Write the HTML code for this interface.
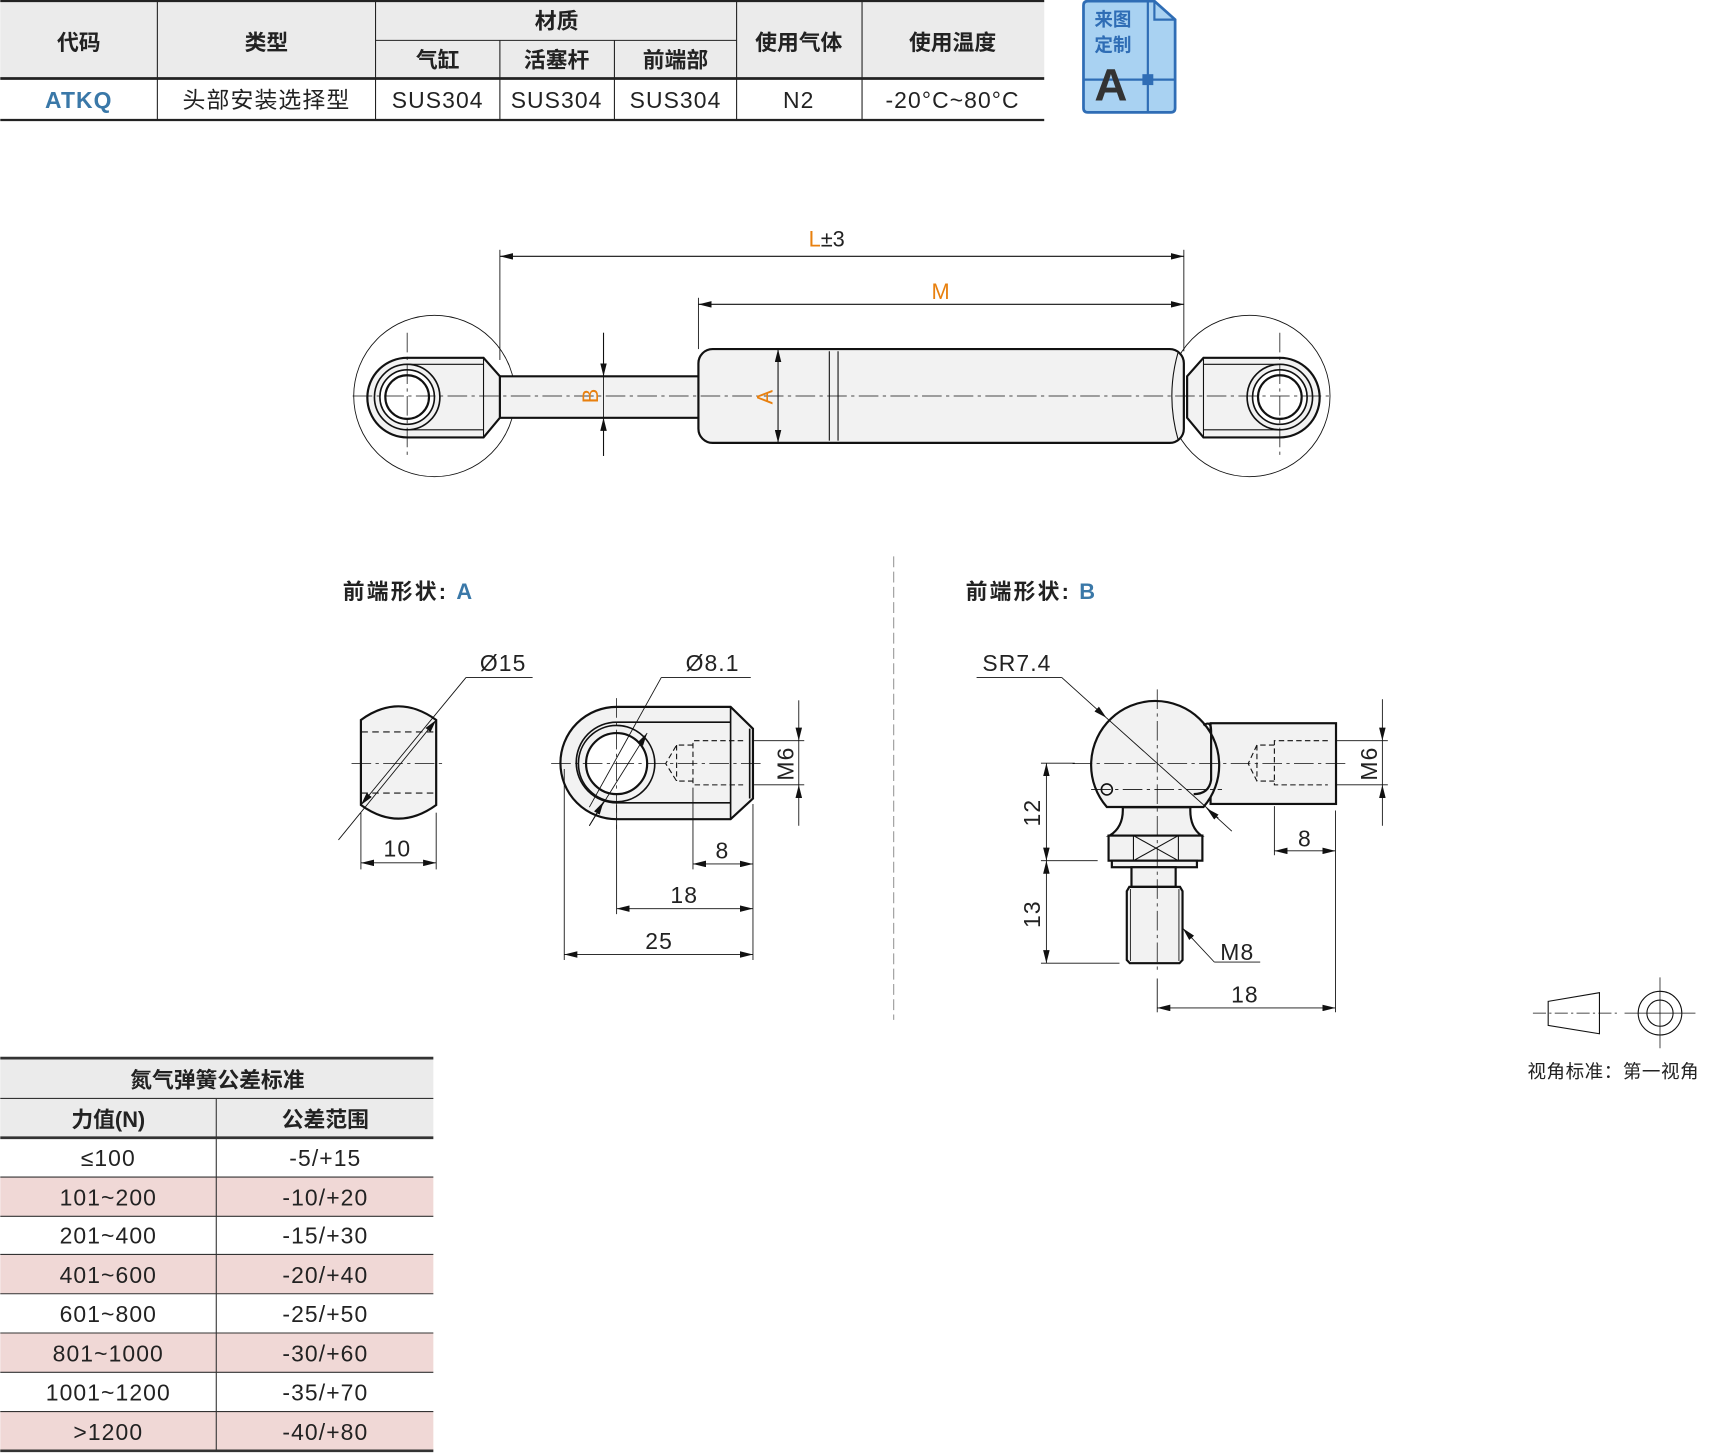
<!DOCTYPE html>
<html><head><meta charset="utf-8"><style>
html,body{margin:0;padding:0;background:#fff;}
svg{display:block;}
text{font-family:"Liberation Sans","Noto Sans CJK SC",sans-serif;}
</style></head><body>
<svg width="1711" height="1453" viewBox="0 0 1568 1332" xmlns="http://www.w3.org/2000/svg">
<defs>
<marker id="ar" viewBox="0 0 12 6" refX="12" refY="3" markerWidth="12" markerHeight="6" markerUnits="userSpaceOnUse" orient="auto-start-reverse"><path d="M0,0 L12,3 L0,6 Z" fill="#111"/></marker>
</defs>
<!-- top table -->
<rect x="0" y="1" width="957" height="71" fill="#ebebeb"/>
<g stroke="#222" fill="none">
<line x1="0" y1="1" x2="957" y2="1" stroke-width="2"/>
<line x1="0" y1="72" x2="957" y2="72" stroke-width="2.5"/>
<line x1="0" y1="110" x2="957" y2="110" stroke-width="2"/>
<line x1="344" y1="37" x2="675" y2="37" stroke-width="1"/>
<line x1="144" y1="1" x2="144" y2="110"/><line x1="344" y1="1" x2="344" y2="110"/>
<line x1="458" y1="37" x2="458" y2="110"/><line x1="563" y1="37" x2="563" y2="110"/>
<line x1="675" y1="1" x2="675" y2="110"/><line x1="790" y1="1" x2="790" y2="110"/>
</g>
<g font-size="20" fill="#222" text-anchor="middle" font-weight="bold">
<text x="72" y="46">代码</text><text x="244" y="46">类型</text><text x="510" y="26">材质</text>
<text x="401" y="62">气缸</text><text x="510" y="62">活塞杆</text><text x="619" y="62">前端部</text>
<text x="732" y="46">使用气体</text><text x="873" y="46">使用温度</text>
</g>
<g font-size="21" fill="#222" text-anchor="middle" letter-spacing="1">
<text x="72" y="99" fill="#3a78a8" font-weight="bold">ATKQ</text><text x="244" y="99">头部安装选择型</text>
<text x="401" y="99">SUS304</text><text x="510" y="99">SUS304</text><text x="619" y="99">SUS304</text>
<text x="732" y="99">N2</text><text x="873" y="99">-20°C~80°C</text>
</g>
<!-- icon -->
<path d="M997,1 L1058,1 L1077,18 L1077,99 Q1077,103 1073,103 L997,103 Q993,103 993,99 L993,5 Q993,1 997,1 Z" fill="#a9d2f2" stroke="#2f6db5" stroke-width="2.5"/>
<path d="M1058,1 L1058,18 L1077,18" fill="none" stroke="#2f6db5" stroke-width="2"/>
<line x1="1052" y1="1" x2="1052" y2="103" stroke="#2f6db5" stroke-width="2"/>
<line x1="993" y1="73" x2="1077" y2="73" stroke="#2f6db5" stroke-width="2"/>
<rect x="1047" y="68" width="10" height="10" fill="#2f6db5"/>
<text x="1003" y="24" font-size="17" fill="#2f6db5" font-weight="bold">来图</text>
<text x="1003" y="47" font-size="17" fill="#2f6db5" font-weight="bold">定制</text>
<text x="1003" y="92" font-size="42" fill="#333" font-weight="bold">A</text>

<!-- main drawing -->
<g stroke="#111" stroke-width="1" fill="none">
<circle cx="398" cy="363" r="74" stroke-width="0.8"/>
<circle cx="1145" cy="363" r="74" stroke-width="0.8"/>
<line x1="458" y1="235" x2="1085" y2="235" marker-start="url(#ar)" marker-end="url(#ar)"/>
<line x1="640" y1="279" x2="1085" y2="279" marker-start="url(#ar)" marker-end="url(#ar)"/>
<line x1="458" y1="229" x2="458" y2="330" stroke-width="0.8"/>
<line x1="1085" y1="229" x2="1085" y2="322" stroke-width="0.8"/>
<line x1="640" y1="273" x2="640" y2="320" stroke-width="0.8"/>
<rect x="458" y="345" width="182" height="38" fill="#f2f2f2" stroke="none"/>
<line x1="458" y1="345" x2="640" y2="345" stroke-width="2"/><line x1="458" y1="383" x2="640" y2="383" stroke-width="2"/>
<rect x="640" y="320" width="445" height="86" rx="13" fill="#f2f2f2" stroke-width="2"/>
<line x1="760" y1="322" x2="760" y2="404"/><line x1="768" y1="322" x2="768" y2="404"/>
<path d="M1080,322 Q1068,363 1080,404"/>
<path d="M373,328 L443,328 L458,345 L458,383 L443,401 L373,401 A36.5,36.5 0 0 1 373,328 Z" fill="#f2f2f2" stroke-width="2"/>
<path d="M373,334 L443,334 M373,394 L443,394 M443,328 L443,401"/>
<circle cx="373" cy="364" r="30" stroke-width="1.5"/>
<circle cx="373" cy="364" r="25" fill="#fff" stroke-width="1.5"/>
<circle cx="373" cy="364" r="20" fill="#fff" stroke-width="2"/>
<path d="M1173,328 L1103,328 L1088,345 L1088,383 L1103,401 L1173,401 A36.5,36.5 0 0 0 1173,328 Z" fill="#f2f2f2" stroke-width="2"/>
<path d="M1173,334 L1103,334 M1173,394 L1103,394 M1103,328 L1103,401"/>
<circle cx="1173" cy="364" r="30" stroke-width="1.5"/>
<circle cx="1173" cy="364" r="25" fill="#fff" stroke-width="1.5"/>
<circle cx="1173" cy="364" r="20" fill="#fff" stroke-width="2"/>
<line x1="323" y1="363" x2="1222" y2="363" stroke-width="0.7" stroke-dasharray="18,4,3,4"/>
<line x1="373" y1="305" x2="373" y2="420" stroke-width="0.7" stroke-dasharray="18,4,3,4"/>
<line x1="1173" y1="305" x2="1173" y2="420" stroke-width="0.7" stroke-dasharray="18,4,3,4"/>
<line x1="553" y1="305" x2="553" y2="345" marker-end="url(#ar)"/>
<line x1="553" y1="418" x2="553" y2="383" marker-end="url(#ar)"/>
<line x1="553" y1="345" x2="553" y2="383" stroke-width="0.8"/>
<line x1="713" y1="320" x2="713" y2="406" marker-start="url(#ar)" marker-end="url(#ar)"/>
</g>
<text x="741" y="226" font-size="20" fill="#222"><tspan fill="#e8800f">L</tspan>±3</text>
<text x="862" y="274" font-size="20" fill="#e8800f" text-anchor="middle">M</text>
<text transform="translate(548,363) rotate(-90)" font-size="20" fill="#e8800f" text-anchor="middle">B</text>
<text transform="translate(708,364) rotate(-90)" font-size="20" fill="#e8800f" text-anchor="middle">A</text>

<!-- titles -->
<text x="314" y="549" font-size="20" fill="#222" font-weight="bold" letter-spacing="2">前端形状: <tspan fill="#3a78a8">A</tspan></text>
<text x="885" y="549" font-size="20" fill="#222" font-weight="bold" letter-spacing="2">前端形状: <tspan fill="#3a78a8">B</tspan></text>
<line x1="819" y1="510" x2="819" y2="935" stroke="#999" stroke-width="1" stroke-dasharray="10,4"/>

<g stroke="#111" stroke-width="1" fill="none">
<path d="M330.6,660 Q365,635 399.6,660 L399.6,738 Q365,763 330.6,738 Z" fill="#f2f2f2" stroke-width="2"/>
<line x1="331" y1="671" x2="399" y2="671" stroke-dasharray="6,4"/>
<line x1="331" y1="727" x2="399" y2="727" stroke-dasharray="6,4"/>
<line x1="322" y1="700" x2="407" y2="700" stroke-width="0.7" stroke-dasharray="18,4,3,4"/>
<line x1="310" y1="770" x2="399.6" y2="660" marker-end="url(#ar)" stroke-width="0.8"/>
<line x1="427" y1="621" x2="330.6" y2="738" marker-end="url(#ar)" stroke-width="0.8"/>
<line x1="427" y1="621" x2="488" y2="621" stroke-width="0.8"/>
<line x1="330.6" y1="745" x2="330.6" y2="797" stroke-width="0.8"/>
<line x1="399.6" y1="745" x2="399.6" y2="797" stroke-width="0.8"/>
<line x1="330.6" y1="791" x2="399.6" y2="791" marker-start="url(#ar)" marker-end="url(#ar)" stroke-width="0.8"/>
<path d="M565,648 L669.5,648 L690,668 L690,732 L669.5,751 L565,751 A51.5,51.5 0 0 1 565,648 Z" fill="#f2f2f2" stroke-width="2"/>
<path d="M565,662 L669.5,662 M565,736 L669.5,736 M669.5,648 L669.5,751 M687,668 L687,732" stroke-width="1.5"/>
<path d="M565,662 A37,37 0 0 0 565,736" stroke-width="1.5"/>
<circle cx="565" cy="700" r="35" stroke-width="1.5"/>
<circle cx="565" cy="700" r="28" fill="#fff" stroke-width="2"/>
<path d="M681,679 L635,679 L635,719.5 L681,719.5 M635,683 L620,683 L610,700 L620,716 L635,716 M620,683 L620,716" stroke-dasharray="5,3"/>
<line x1="505" y1="700" x2="700" y2="700" stroke-width="0.7" stroke-dasharray="18,4,3,4"/>
<line x1="565" y1="640" x2="565" y2="760" stroke-width="0.7" stroke-dasharray="18,4,3,4"/>
<line x1="540" y1="757" x2="593" y2="672" marker-end="url(#ar)" stroke-width="0.8"/>
<line x1="606" y1="621" x2="540" y2="740" stroke-width="0.8"/>
<line x1="553" y1="735" x2="540" y2="757" marker-start="url(#ar)" stroke-width="0.8"/>
<line x1="606" y1="621" x2="688" y2="621" stroke-width="0.8"/>
<line x1="691" y1="679" x2="737" y2="679" stroke-width="0.8"/><line x1="691" y1="719.5" x2="737" y2="719.5" stroke-width="0.8"/>
<line x1="732" y1="642" x2="732" y2="679" marker-end="url(#ar)" stroke-width="0.8"/>
<line x1="732" y1="757" x2="732" y2="719.5" marker-end="url(#ar)" stroke-width="0.8"/>
<line x1="732" y1="679" x2="732" y2="719.5" stroke-width="0.8"/>
<line x1="517" y1="705" x2="517" y2="880" stroke-width="0.8"/>
<line x1="565" y1="738" x2="565" y2="838" stroke-width="0.8"/>
<line x1="635" y1="722" x2="635" y2="797" stroke-width="0.8"/>
<line x1="690" y1="737" x2="690" y2="880" stroke-width="0.8"/>
<line x1="635" y1="792" x2="690" y2="792" marker-start="url(#ar)" marker-end="url(#ar)" stroke-width="0.8"/>
<line x1="565" y1="833" x2="690" y2="833" marker-start="url(#ar)" marker-end="url(#ar)" stroke-width="0.8"/>
<line x1="517" y1="875" x2="690" y2="875" marker-start="url(#ar)" marker-end="url(#ar)" stroke-width="0.8"/>
</g>
<g font-size="21" fill="#222" text-anchor="middle" letter-spacing="1">
<text x="461" y="615">Ø15</text><text x="653" y="615">Ø8.1</text>
<text x="364" y="785">10</text><text x="662" y="787">8</text><text x="627" y="828">18</text><text x="604" y="870">25</text>
<text transform="translate(727,700) rotate(-90)">M6</text>
</g>

<g stroke="#111" stroke-width="1" fill="none">
<rect x="1109.5" y="663" width="115" height="74" fill="#f2f2f2" stroke-width="2"/>
<path d="M1014.4,739.8 A58.7,58.7 0 1 1 1103,739.8 Z" fill="#f2f2f2" stroke-width="2"/>
<path d="M1103,665 Q1110,660 1110,670 L1110,715 Q1108,728 1094,728" stroke-width="2"/>
<path d="M1029,740 Q1030,758 1017,766 L1101,766 Q1090,758 1091,740 Z" fill="#f2f2f2" stroke-width="2"/>
<rect x="1016" y="766" width="86" height="23" fill="#f2f2f2" stroke-width="2"/>
<path d="M1038.8,766 L1038.8,789 M1080,766 L1080,789 M1038.8,766 L1080,789 M1080,766 L1038.8,789" stroke-width="1"/>
<rect x="1019" y="789" width="78" height="6" fill="#f2f2f2" stroke-width="2"/>
<rect x="1037" y="795" width="40.5" height="18" fill="#f2f2f2" stroke-width="2"/>
<path d="M1035,813 L1081.5,813 L1083.8,817 L1083.8,880 L1081,883 L1035.5,883 L1032.7,880 L1032.7,817 Z" fill="#f2f2f2" stroke-width="2"/>
<path d="M1036,815 L1036,881 M1080.5,815 L1080.5,881" stroke-width="0.8"/>
<circle cx="1014.4" cy="723.7" r="5" fill="#f2f2f2" stroke-width="1.5"/>
<path d="M1217,679 L1168,679 L1168,719.5 L1217,719.5 M1168,683 L1152,683 L1144,700 L1152,716 L1168,716 M1152,683 L1152,716" stroke-dasharray="5,3"/>
<line x1="983" y1="700" x2="1237" y2="700" stroke-width="0.7" stroke-dasharray="18,4,3,4"/>
<line x1="1060.6" y1="632" x2="1060.6" y2="889" stroke-width="0.7" stroke-dasharray="18,4,3,4"/>
<line x1="1000" y1="723.7" x2="1120" y2="723.7" stroke-width="0.7" stroke-dasharray="18,4,3,4"/>
<line x1="895" y1="621" x2="973" y2="621" stroke-width="0.8"/>
<line x1="973" y1="621" x2="1014" y2="658" marker-end="url(#ar)" stroke-width="0.8"/>
<line x1="1014" y1="658" x2="1116.6" y2="750" stroke-width="0.8"/>
<line x1="1129" y1="762" x2="1106" y2="741" marker-end="url(#ar)" stroke-width="0.8"/>
<line x1="954" y1="699.6" x2="985" y2="699.6" stroke-width="0.8"/>
<line x1="954" y1="789" x2="1006" y2="789" stroke-width="0.8"/>
<line x1="954" y1="883" x2="1026" y2="883" stroke-width="0.8"/>
<line x1="959" y1="699.6" x2="959" y2="789" marker-start="url(#ar)" marker-end="url(#ar)" stroke-width="0.8"/>
<line x1="959" y1="789" x2="959" y2="883" marker-start="url(#ar)" marker-end="url(#ar)" stroke-width="0.8"/>
<line x1="1113" y1="882" x2="1084" y2="851" marker-end="url(#ar)" stroke-width="0.8"/>
<line x1="1113" y1="882" x2="1155" y2="882" stroke-width="0.8"/>
<line x1="1224" y1="679" x2="1272" y2="679" stroke-width="0.8"/><line x1="1224" y1="719.5" x2="1272" y2="719.5" stroke-width="0.8"/>
<line x1="1267" y1="641" x2="1267" y2="679" marker-end="url(#ar)" stroke-width="0.8"/>
<line x1="1267" y1="757" x2="1267" y2="719.5" marker-end="url(#ar)" stroke-width="0.8"/>
<line x1="1267" y1="679" x2="1267" y2="719.5" stroke-width="0.8"/>
<line x1="1168" y1="739" x2="1168" y2="784" stroke-width="0.8"/>
<line x1="1224" y1="743" x2="1224" y2="928" stroke-width="0.8"/>
<line x1="1060.6" y1="897" x2="1060.6" y2="928" stroke-width="0.8"/>
<line x1="1168" y1="780" x2="1224" y2="780" marker-start="url(#ar)" marker-end="url(#ar)" stroke-width="0.8"/>
<line x1="1060.6" y1="924" x2="1224" y2="924" marker-start="url(#ar)" marker-end="url(#ar)" stroke-width="0.8"/>
</g>
<g font-size="21" fill="#222" text-anchor="middle" letter-spacing="1">
<text x="932" y="615">SR7.4</text><text x="1134" y="880">M8</text>
<text x="1196" y="776">8</text><text x="1141" y="919">18</text>
<text transform="translate(953,745) rotate(-90)">12</text>
<text transform="translate(953,838) rotate(-90)">13</text>
<text transform="translate(1262,700) rotate(-90)">M6</text>
</g>

<g stroke="#111" stroke-width="1" fill="none">
<path d="M1419,918 L1466,910 L1466,947.7 L1419,940 Z"/>
<line x1="1405" y1="928.8" x2="1482" y2="928.8" stroke-width="0.7" stroke-dasharray="12,3,2,3"/>
<circle cx="1521.5" cy="928.8" r="20"/><circle cx="1521.5" cy="928.8" r="12"/>
<line x1="1489" y1="928.8" x2="1554" y2="928.8" stroke-width="0.7"/>
<line x1="1521.5" y1="896" x2="1521.5" y2="961" stroke-width="0.7"/>
</g>
<text x="1400" y="988" font-size="17" fill="#222" letter-spacing="0.5">视角标准：第一视角</text>

<rect x="0" y="970" width="397" height="73" fill="#ebebeb"/>
<g fill="#f0d8d6">
<rect x="0" y="1079" width="397" height="36"/><rect x="0" y="1150" width="397" height="36"/>
<rect x="0" y="1222" width="397" height="36"/><rect x="0" y="1294" width="397" height="36"/>
</g>
<g stroke="#333" stroke-width="1">
<line x1="0" y1="970" x2="397" y2="970" stroke-width="2.5"/>
<line x1="0" y1="1007" x2="397" y2="1007"/>
<line x1="0" y1="1043" x2="397" y2="1043" stroke-width="2.5"/>
<line x1="0" y1="1079" x2="397" y2="1079"/><line x1="0" y1="1115" x2="397" y2="1115"/>
<line x1="0" y1="1150" x2="397" y2="1150"/><line x1="0" y1="1186" x2="397" y2="1186"/>
<line x1="0" y1="1222" x2="397" y2="1222"/><line x1="0" y1="1258" x2="397" y2="1258"/>
<line x1="0" y1="1294" x2="397" y2="1294"/>
<line x1="0" y1="1330" x2="397" y2="1330" stroke-width="2.5"/>
<line x1="198" y1="1007" x2="198" y2="1330"/>
</g>
<g font-size="20" fill="#222" text-anchor="middle" font-weight="bold">
<text x="199" y="997">氮气弹簧公差标准</text>
<text x="99" y="1033">力值(N)</text><text x="298" y="1033">公差范围</text>
</g>
<g font-size="21" fill="#222" text-anchor="middle" letter-spacing="1">
<text x="99" y="1069">≤100</text><text x="298" y="1069">-5/+15</text>
<text x="99" y="1105">101~200</text><text x="298" y="1105">-10/+20</text>
<text x="99" y="1140">201~400</text><text x="298" y="1140">-15/+30</text>
<text x="99" y="1176">401~600</text><text x="298" y="1176">-20/+40</text>
<text x="99" y="1212">601~800</text><text x="298" y="1212">-25/+50</text>
<text x="99" y="1248">801~1000</text><text x="298" y="1248">-30/+60</text>
<text x="99" y="1284">1001~1200</text><text x="298" y="1284">-35/+70</text>
<text x="99" y="1320">&gt;1200</text><text x="298" y="1320">-40/+80</text>
</g>
</svg>
</body></html>
